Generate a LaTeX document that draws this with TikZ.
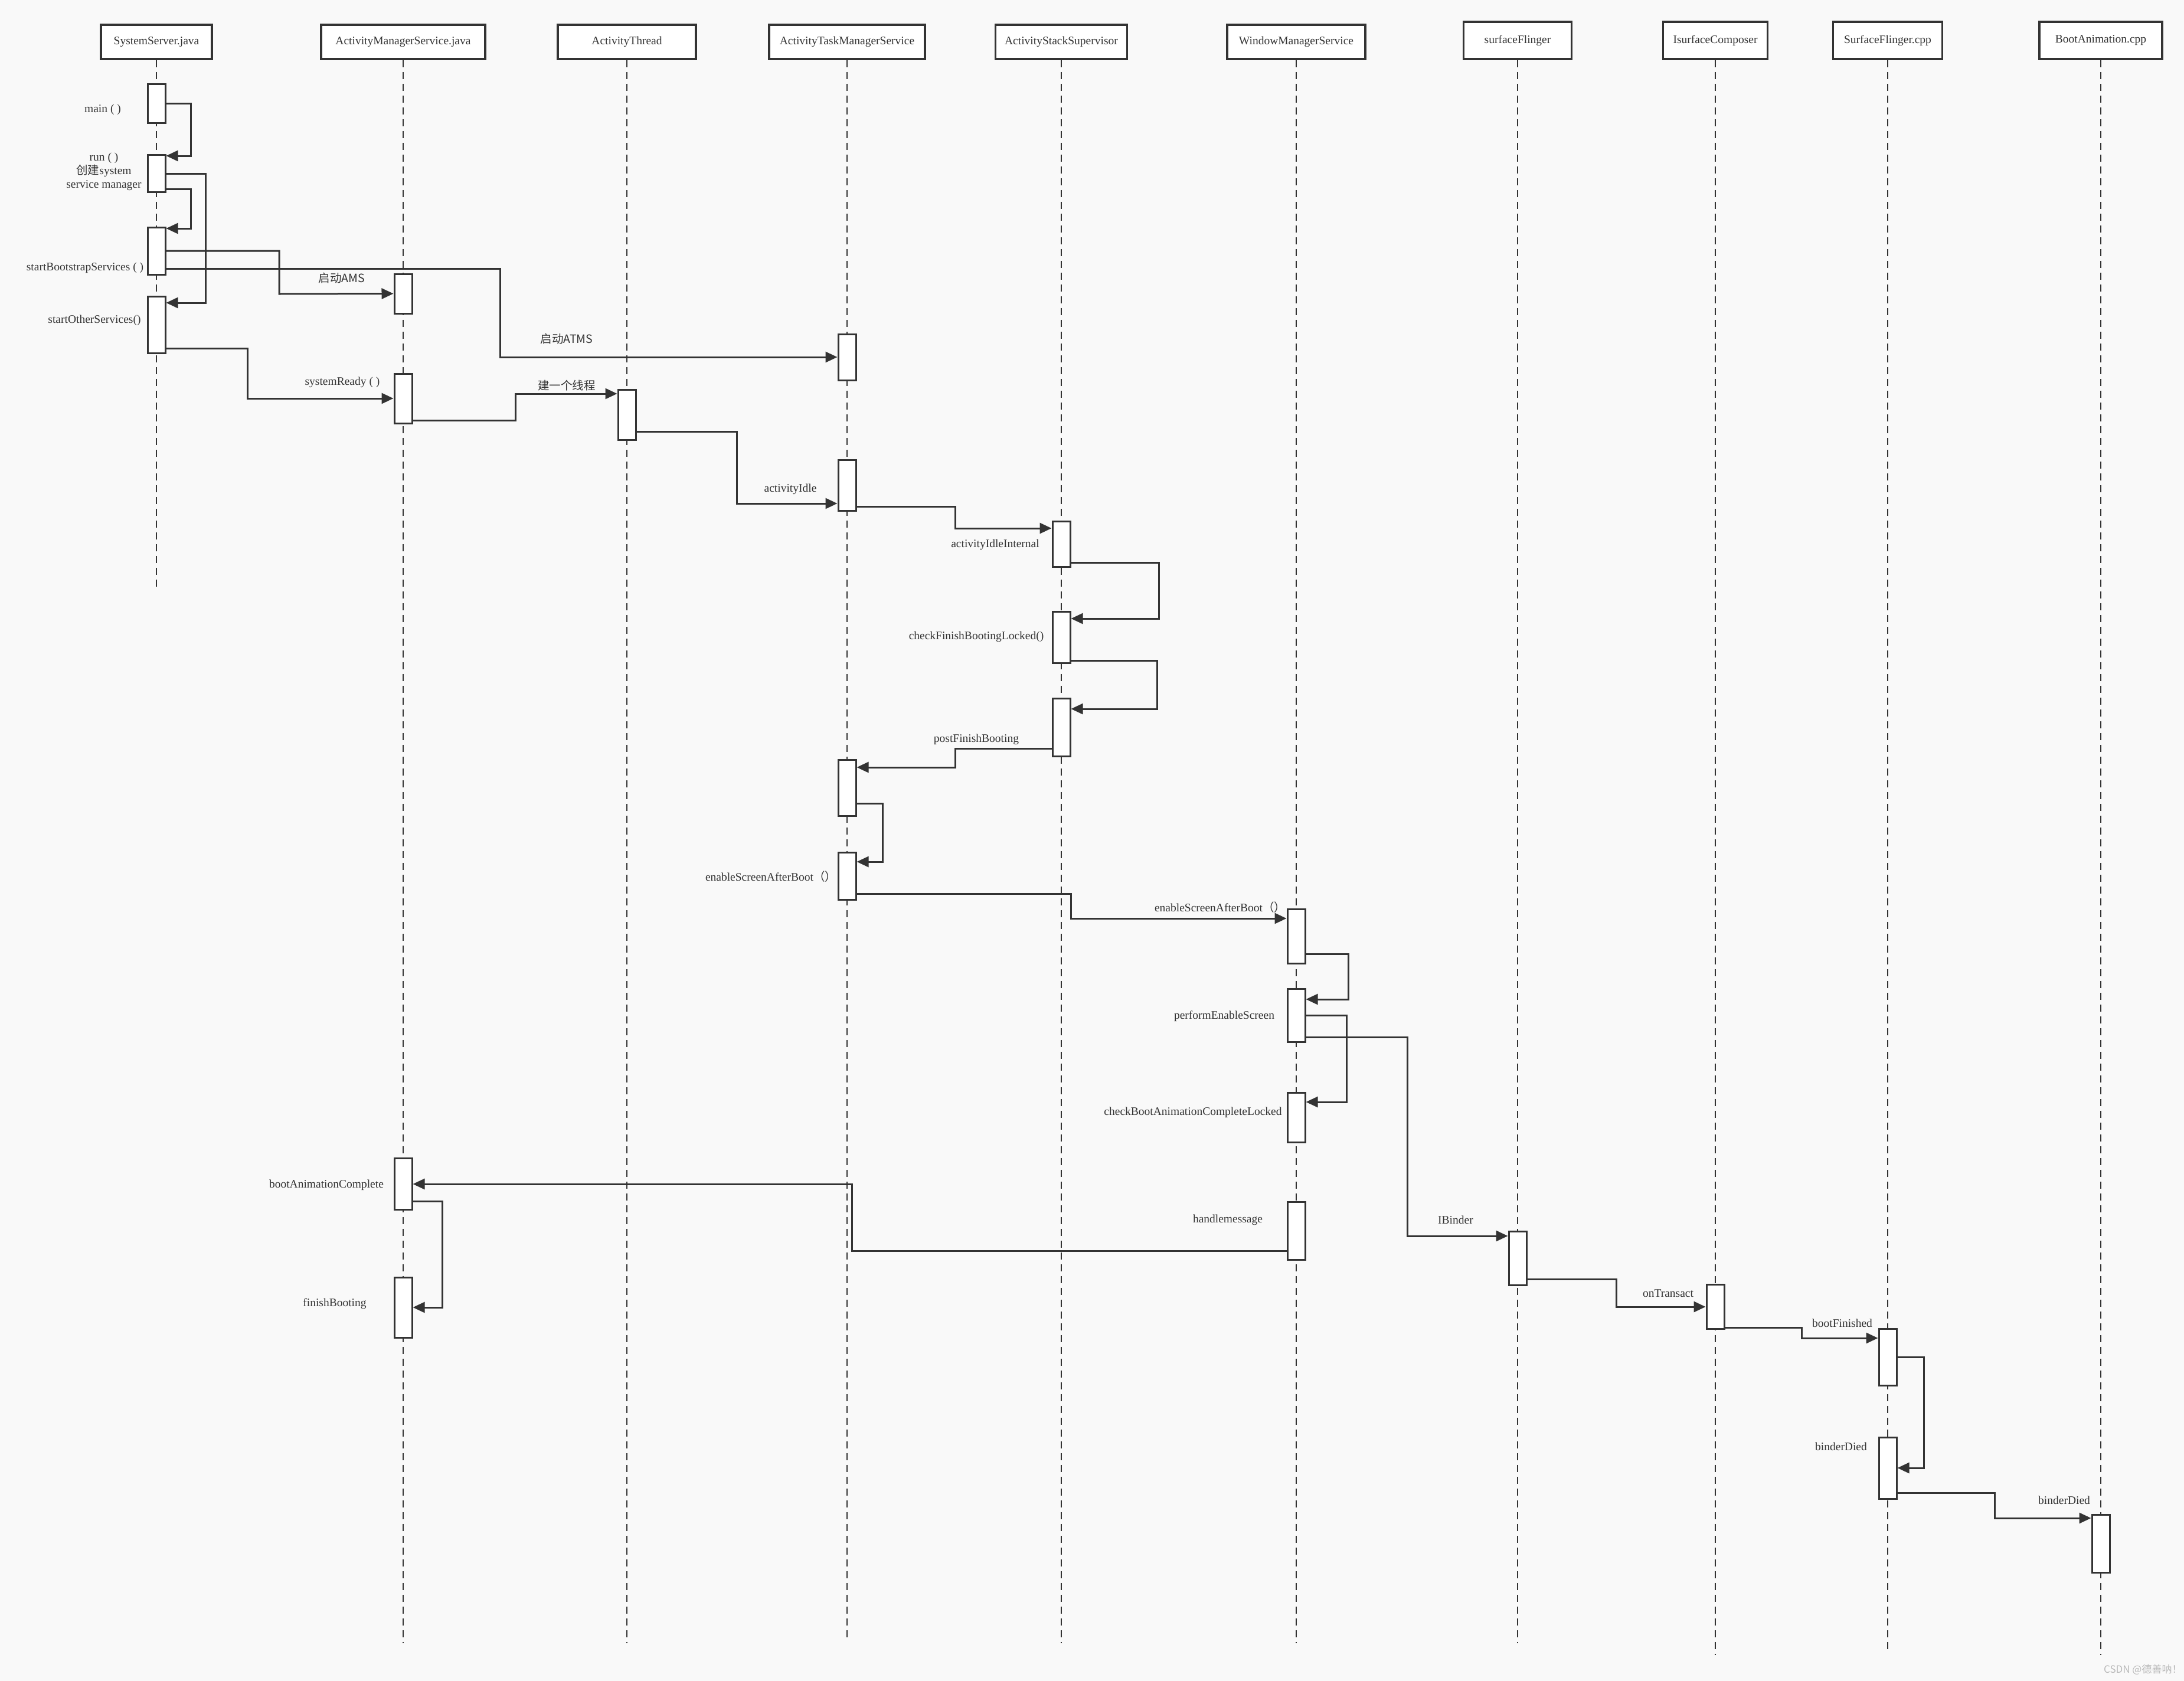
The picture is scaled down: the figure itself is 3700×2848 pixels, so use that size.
\documentclass[tikz,border=0pt]{standalone}
\usepackage{fontspec}
\setmainfont{Liberation Serif}
\newfontfamily\cjk{Noto Sans CJK SC}
\usetikzlibrary{arrows.meta}
\definecolor{ink}{HTML}{333333}
\definecolor{paper}{HTML}{F9F9F9}

\begin{document}
\begin{tikzpicture}[x=1pt,y=-1pt,color=ink,line width=3pt,
  font=\fontsize{19.5}{23}\selectfont,
  head/.style={draw,fill=white,line width=3.5pt,minimum height=58,inner sep=0},
  life/.style={line width=2.6pt,dash pattern=on 12pt off 8pt},
  act/.style={draw,fill=white,line width=3pt,minimum width=30,inner sep=0},
  msg/.style={line width=3pt,-{Triangle[length=20pt,width=18pt]}},
  cjk/.style={font=\fontsize{19.5}{23}\selectfont\cjk}]
\fill[paper] (0,0) rectangle (3700,2848);
% lanes
\node[head,minimum width=188] (ss) at (265,71) {SystemServer.java};
\node[head,minimum width=278] (ams) at (683,71) {ActivityManagerService.java};
\node[head,minimum width=234] (at) at (1062,71) {ActivityThread};
\node[head,minimum width=264] (atms) at (1435,71) {ActivityTaskManagerService};
\node[head,minimum width=223] (ass) at (1798,71) {ActivityStackSupervisor};
\node[head,minimum width=234] (wms) at (2196,71) {WindowManagerService};
\node[head,minimum width=183,minimum height=63] (sf) at (2571,68.5) {surfaceFlinger};
\node[head,minimum width=177,minimum height=63] (isc) at (2906,68.5) {IsurfaceComposer};
\node[head,minimum width=185,minimum height=63] (sfcpp) at (3198,68.5) {SurfaceFlinger.cpp};
\node[head,minimum width=208,minimum height=63] (ba) at (3559,68.5) {BootAnimation.cpp};
\foreach \n/\e in {ss/998,ams/2784,at/2784,atms/2780,ass/2784,wms/2784,
                   sf/2784,isc/2804,sfcpp/2801,ba/2804}
  \draw[life] (\n.south) -- (\n.south |- 0,\e);
% activations
\node[act,minimum height=66] (ssmain) at (ss |- 0,175) {};
\node[act,minimum height=63] (ssrun) at (ss |- 0,293.5) {};
\node[act,minimum height=80] (ssboot) at (ss |- 0,425) {};
\node[act,minimum height=96] (ssother) at (ss |- 0,550) {};
\node[act,minimum height=67] (ams1) at (ams |- 0,497.5) {};
\node[act,minimum height=84] (ams2) at (ams |- 0,675) {};
\node[act,minimum height=87] (ams3) at (ams |- 0,2005.5) {};
\node[act,minimum height=102] (ams4) at (ams |- 0,2215) {};
\node[act,minimum height=85] (at1) at (at |- 0,702.5) {};
\node[act,minimum height=78] (atms1) at (atms |- 0,605) {};
\node[act,minimum height=86] (atms2) at (atms |- 0,822) {};
\node[act,minimum height=95] (atms3) at (atms |- 0,1334.5) {};
\node[act,minimum height=80] (atms4) at (atms |- 0,1484) {};
\node[act,minimum height=77] (ass1) at (ass |- 0,921.5) {};
\node[act,minimum height=87] (ass2) at (ass |- 0,1079.5) {};
\node[act,minimum height=98] (ass3) at (ass |- 0,1232) {};
\node[act,minimum height=92] (wms1) at (wms |- 0,1586) {};
\node[act,minimum height=90] (wms2) at (wms |- 0,1720) {};
\node[act,minimum height=84] (wms3) at (wms |- 0,1893) {};
\node[act,minimum height=98] (wms4) at (wms |- 0,2085) {};
\node[act,minimum height=91] (sf1) at (sf |- 0,2131.5) {};
\node[act,minimum height=75] (isc1) at (isc |- 0,2213.5) {};
\node[act,minimum height=96] (sfcpp1) at (sfcpp |- 0,2299) {};
\node[act,minimum height=104] (sfcpp2) at (sfcpp |- 0,2487) {};
\node[act,minimum height=98] (ba1) at (ba |- 0,2615) {};
% calls
\draw[msg] (ssmain.east) -| (323,264) -- (ssrun.east |- 0,264);
\draw[msg] (ssrun.east |- 0,320) -| (323,387) -- (ssboot.east |- 0,387);
\draw[msg] (ssrun.east |- 0,294) -| (348,513) -- (ssother.east |- 0,513);
\draw[msg] (ssboot.east) -| (473,498) -- (ams1.west);
\draw[msg] (ssboot.east |- 0,455) -| (847,605) -- (atms1.west);
\draw[msg] (ssother.east |- 0,590) -| (419,675) -- (ams2.west);
\draw[msg] (ams2.east |- 0,712) -| (873,667) -- (at1.west |- 0,667);
\draw[msg] (at1.east |- 0,731) -| (1248,853) -- (atms2.west |- 0,853);
\draw[msg] (atms2.east |- 0,858) -| (1618,895) -- (ass1.west |- 0,895);
\draw[msg] (ass1.east |- 0,953) -| (1963,1048) -- (ass2.east |- 0,1048);
\draw[msg] (ass2.east |- 0,1119) -| (1960,1201) -- (ass3.east |- 0,1201);
\draw[msg] (ass3.west |- 0,1268) -| (1618,1300) -- (atms3.east |- 0,1300);
\draw[msg] (atms3.east |- 0,1361) -| (1495,1460) -- (atms4.east |- 0,1460);
\draw[msg] (atms4.east |- 0,1514) -| (1814,1556) -- (wms1.west |- 0,1556);
\draw[msg] (wms1.east |- 0,1616) -| (2284,1693) -- (wms2.east |- 0,1693);
\draw[msg] (wms2.east) -| (2281,1867) -- (wms3.east |- 0,1867);
\draw[msg] (wms2.east |- 0,1757) -| (2384,2094) -- (sf1.west |- 0,2094);
\draw[msg] (wms4.west |- 0,2119) -| (1443,2006) -- (ams3.east |- 0,2006);
\draw[msg] (ams3.east |- 0,2035) -| (749,2215) -- (ams4.east |- 0,2215);
\draw[msg] (sf1.east |- 0,2167) -| (2738,2214) -- (isc1.west |- 0,2214);
\draw[msg] (isc1.east |- 0,2249) -| (3052,2267) -- (sfcpp1.west |- 0,2267);
\draw[msg] (sfcpp1.east) -| (3259,2487) -- (sfcpp2.east |- 0,2487);
\draw[msg] (sfcpp2.east |- 0,2529) -| (3379,2572) -- (ba1.west |- 0,2572);
% labels
\node (lmain) at (174,186) {main ( )};
\node[align=center] (lrun) at (176,291) {run ( )\\{\cjk 创建}system\\service manager};
\node (lboot) at (144,454) {startBootstrapServices ( )};
\node (lother) at (160,543) {startOtherServices()};
\node[cjk] (lams) at (579,471) {启动AMS};
\node[cjk] (latms) at (960,574) {启动ATMS};
\node (lready) at (580,648) {systemReady ( )};
\node[cjk] (lthread) at (960,653) {建一个线程};
\node (lidle) at (1339,829) {activityIdle};
\node (lidlein) at (1686,923) {activityIdleInternal};
\node (lcheck) at (1654,1079) {checkFinishBootingLocked()};
\node (lpost) at (1654,1253) {postFinishBooting};
\node (lenable) at (1306,1485) {enableScreenAfterBoot{\cjk （）}};
\node (lenablew) at (2067,1537) {enableScreenAfterBoot{\cjk （）}};
\node (lperform) at (2074,1722) {performEnableScreen};
\node (lcheckba) at (2021,1885) {checkBootAnimationCompleteLocked};
\node (lhandle) at (2080,2067) {handlemessage};
\node (libinder) at (2466,2067) {IBinder};
\node (lbac) at (553,2008) {bootAnimationComplete};
\node (lfinish) at (567,2209) {finishBooting};
\node (ltrans) at (2826,2191) {onTransact};
\node (lbootf) at (3121,2242) {bootFinished};
\node (ldied) at (3119,2451) {binderDied};
\node (ldiedba) at (3497,2542) {binderDied};
\node[anchor=east,inner sep=0,text=gray!55,font=\fontsize{17}{20}\selectfont\cjk] (mark) at (3698,2829) {CSDN @德善呐！};
\end{tikzpicture}
\end{document}
